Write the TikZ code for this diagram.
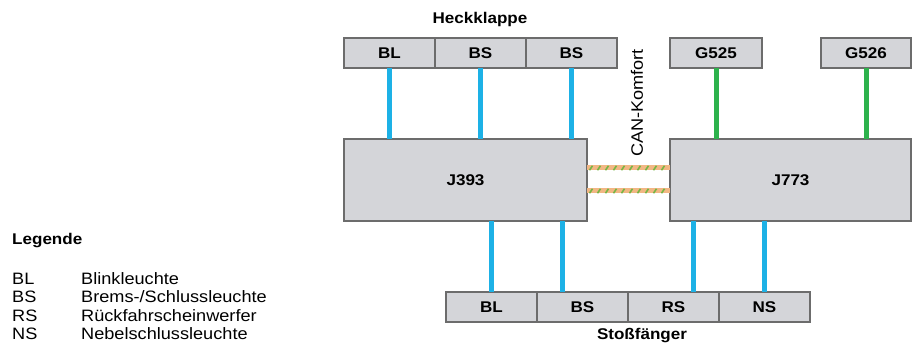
\documentclass[tikz,border=0pt]{standalone}
\usepackage{fontspec}
\setmainfont{Liberation Sans}[FakeStretch=1.1]
\usetikzlibrary{positioning,decorations.markings}
\definecolor{BoxFill}{HTML}{D4D5D9}
\definecolor{BoxLine}{HTML}{6C6C6C}
\definecolor{Wire}{HTML}{1DB1E6}
\definecolor{Hall}{HTML}{2DB24C}
\definecolor{CanBase}{HTML}{F2B784}
\definecolor{CanStripe}{HTML}{78B544}
\tikzset{
  unit/.style={draw=BoxLine,fill=BoxFill,line width=1.3pt,inner sep=0pt,outer sep=0pt,minimum width=91pt,minimum height=30pt,font=\bfseries\fontsize{15.5}{18}\selectfont},
  ctrl/.style={unit,minimum width=242pt,minimum height=82pt},
  lamp/.style={Wire,line width=5pt},
  sensor/.style={Hall,line width=5pt},
  canbus/.style={CanBase,line width=5pt,postaction={decorate},
    decoration={markings,mark=between positions 4pt and 1 step 8pt with {\draw[CanStripe,line width=1.6pt] (-1.5pt,-2.2pt) -- (1.5pt,2.2pt);}}},
  title/.style={font=\bfseries\fontsize{15.5}{18}\selectfont},
  legtext/.style={font=\fontsize{16.5}{18}\selectfont,anchor=base west,inner sep=0pt}
}

\begin{document}
\begin{tikzpicture}[x=1pt,y=-1pt]
  \useasboundingbox (0,0) rectangle (912,344);
  % Heckklappe
  \node[title] (heck) at (480,19) {Heckklappe};
  \node[unit] (tbl) at (389.5,53) {BL};
  \node[unit,right=0pt of tbl] (tbs1) {BS};
  \node[unit,right=0pt of tbs1] (tbs2) {BS};
  \node[unit,minimum width=92pt] (g525) at (716,53) {G525};
  \node[unit,minimum width=90pt] (g526) at (866,53) {G526};
  % Steuergeraete
  \node[ctrl,minimum width=243pt] (j393) at (465.5,180) {J393};
  \node[ctrl,minimum width=241pt] (j773) at (790.5,180) {J773};
  % Stossfaenger
  \node[unit] (bbl) at (491.5,307) {BL};
  \node[unit,right=0pt of bbl] (bbs) {BS};
  \node[unit,right=0pt of bbs] (brs) {RS};
  \node[unit,right=0pt of brs] (bns) {NS};
  \node[title] (stoss) at (642,336) {Stoßfänger};
  % Leitungen
  \draw[lamp] (tbl.south) -- (tbl.south |- j393.north);
  \draw[lamp] (tbs1.south) -- (tbs1.south |- j393.north);
  \draw[lamp] (tbs2.south) -- (tbs2.south |- j393.north);
  \draw[sensor] (g525.south) -- (g525.south |- j773.north);
  \draw[sensor] (g526.south) -- (g526.south |- j773.north);
  \draw[lamp] (bbl.north) -- (bbl.north |- j393.south);
  \draw[lamp] ([xshift=-20pt]bbs.north) -- ([xshift=-20pt]bbs.north |- j393.south);
  \draw[lamp] ([xshift=20pt]brs.north) -- ([xshift=20pt]brs.north |- j773.south);
  \draw[lamp] (bns.north) -- (bns.north |- j773.south);
  % CAN
  \draw[canbus] ([yshift=12pt]j393.east) -- ([yshift=12pt]j393.east -| j773.west);
  \draw[canbus] ([yshift=-11pt]j393.east) -- ([yshift=-11pt]j393.east -| j773.west);
  \node[rotate=90,font=\fontsize{16.5}{18}\selectfont] (can) at (637,103) {CAN-Komfort};
  % Legende
  \node[legtext,font=\bfseries\fontsize{15.5}{18}\selectfont] (leg) at (12,245) {Legende};
  \foreach \ab/\txt [count=\i] in {BL/Blinkleuchte,BS/{Brems-/Schlussleuchte},RS/Rückfahrscheinwerfer,NS/Nebelschlussleuchte}{
    \node[legtext] (ab\i) at (12,267+18*\i) {\ab};
    \node[legtext] (tx\i) at (81,267+18*\i) {\txt};
  }
\end{tikzpicture}
\end{document}
